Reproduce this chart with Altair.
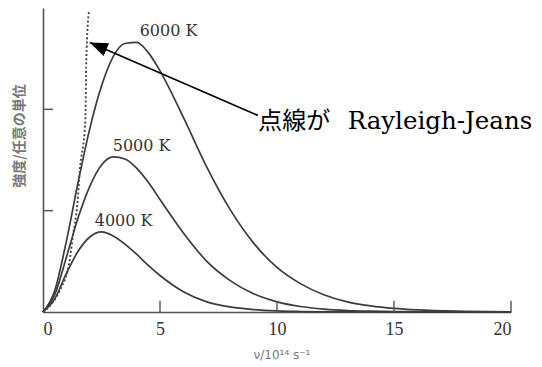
import altair as alt
import pandas as pd

# frequency grid (10^14 s^-1) and intensities
nu = [0, 0.5, 1, 1.5, 2, 2.5, 3, 3.5, 4, 4.5, 5, 6, 7, 8, 9, 10, 11, 12, 13, 14, 15, 16, 18, 20]
i6000 = [0, 0.21, 0.70, 1.28, 1.81, 2.23, 2.52, 2.65, 2.66, 2.56, 2.38, 1.92, 1.43, 1.01, 0.68,
         0.44, 0.28, 0.17, 0.10, 0.06, 0.035, 0.02, 0.007, 0.002]
i5000 = [0, 0.17, 0.54, 0.93, 1.24, 1.45, 1.53, 1.51, 1.42, 1.28, 1.11, 0.78, 0.50, 0.31, 0.18,
         0.10, 0.054, 0.029, 0.015, 0.008, 0.004, 0.002, 0.0005, 0.0001]
i4000 = [0, 0.13, 0.38, 0.60, 0.74, 0.79, 0.75, 0.67, 0.57, 0.46, 0.36, 0.20, 0.10, 0.05, 0.024,
         0.011, 0.005, 0.002, 0.001, 0, 0, 0, 0, 0]

# Rayleigh-Jeans dotted curve
rj_nu = [0, 0.29, 0.71, 1.14, 1.27, 1.47, 1.57, 1.81, 1.85, 1.97]
rj_val = [0, 0.06, 0.21, 0.51, 0.74, 1.07, 1.39, 1.89, 2.48, 2.98]

# curve labels
lab_text = ["6000  K", "5000  K", "4000  K"]
lab_nu = [4.13, 2.98, 2.21]
lab_val = [2.77, 1.64, 0.90]

# axis ticks
x_ticks = [0, 5, 10, 15, 20]
x_inner_ticks = [5, 10, 15, 20]
y_inner_ticks = [1, 2]

# annotation arrow (tip, tail) and text
arrow_tip = (2.0, 2.66)
arrow_tail = (9.18, 1.94)
note_jp = "点線が"
note_en = "Rayleigh-Jeans"
note_jp_pos = (9.2, 1.81)
note_en_pos = (13.02, 1.81)

xs = alt.Scale(domain=[0, 20], nice=False, zero=False)
ys = alt.Scale(domain=[0, 3.0], nice=False, zero=False)

xaxis = alt.Axis(
    values=x_ticks, ticks=False, grid=False, labelPadding=8,
    labelFont="Liberation Serif", labelFontSize=18, labelColor="#333",
    labelAngle=0, domainColor="#555", domainWidth=1.6,
    title="ν/10¹⁴ s⁻¹", titleFont="DejaVu Sans", titleFontSize=12,
    titleFontWeight="normal", titleColor="#777",
    titleX=238.5, titleY=42.5, titleBaseline="middle", titleAlign="center")
yaxis = alt.Axis(
    labels=False, ticks=False, grid=False, domainColor="#555", domainWidth=1.6,
    title="強度/任意の単位", titleFont="Noto Sans CJK JP", titleFontSize=14,
    titleFontWeight="bold", titleColor="#777", titleAngle=270,
    titleX=-24, titleY=127.5, titleBaseline="middle", titleAlign="center")


def X(field="nu"):
    return alt.X(f"{field}:Q", scale=xs, axis=xaxis)


def Y(field="I"):
    return alt.Y(f"{field}:Q", scale=ys, axis=yaxis)


rows = []
for name, vals in [("6000", i6000), ("5000", i5000), ("4000", i4000)]:
    for a, b in zip(nu, vals):
        rows.append({"nu": a, "I": b, "T": name})
curves_df = pd.DataFrame(rows)

curves = alt.Chart(curves_df).mark_line(
    color="#3c3c3c", strokeWidth=1.7, interpolate="monotone"
).encode(x=X(), y=Y(), detail="T:N")

rj = alt.Chart(pd.DataFrame({"nu": rj_nu, "I": rj_val})).mark_line(
    color="#444", strokeWidth=1.9, strokeDash=[2, 2.2], interpolate="monotone"
).encode(x=X(), y=Y())

xt = alt.Chart(pd.DataFrame({"nu": x_inner_ticks, "I": [0] * len(x_inner_ticks),
                             "I2": [0.11] * len(x_inner_ticks)})).mark_rule(
    color="#555", strokeWidth=1.4
).encode(x=X(), y=Y(), y2="I2:Q")

yt = alt.Chart(pd.DataFrame({"I": y_inner_ticks, "nu": [0] * len(y_inner_ticks),
                             "nu2": [0.43] * len(y_inner_ticks)})).mark_rule(
    color="#555", strokeWidth=1.4
).encode(y=Y(), x=X(), x2="nu2:Q")

labels = alt.Chart(pd.DataFrame({"txt": lab_text, "nu": lab_nu, "I": lab_val})).mark_text(
    align="left", baseline="middle", font="DejaVu Serif", fontSize=16, color="#333"
).encode(x=X(), y=Y(), text="txt:N")

arrow_line = alt.Chart(pd.DataFrame({
    "nu": [arrow_tail[0]], "I": [arrow_tail[1]], "nu2": [arrow_tip[0]], "I2": [arrow_tip[1]]
})).mark_rule(color="black", strokeWidth=1.8).encode(
    x=X(), y=Y(), x2="nu2:Q", y2="I2:Q")

arrow_head = alt.Chart(pd.DataFrame({"nu": [arrow_tip[0]], "I": [arrow_tip[1]]})).mark_point(
    shape="M0,0L-0.38,1L0.38,1Z", filled=True, color="black", opacity=1,
    size=1300, angle=293.5, strokeWidth=0
).encode(x=X(), y=Y())

note1 = alt.Chart(pd.DataFrame({"nu": [note_jp_pos[0]], "I": [note_jp_pos[1]], "t": [note_jp]})).mark_text(
    align="left", baseline="alphabetic", font="Noto Sans CJK JP", fontSize=24, color="black"
).encode(x=X(), y=Y(), text="t:N")

note2 = alt.Chart(pd.DataFrame({"nu": [note_en_pos[0]], "I": [note_en_pos[1]], "t": [note_en]})).mark_text(
    align="left", baseline="alphabetic", font="DejaVu Serif", fontSize=24.5, color="black"
).encode(x=X(), y=Y(), text="t:N")

chart = alt.layer(curves, rj, xt, yt, labels, arrow_line, arrow_head, note1, note2).properties(
    width=468, height=304,
    autosize=alt.AutoSizeParams(type="none"),
    padding={"left": 35, "top": 0, "right": 23, "bottom": 50},
    background="white",
).configure_view(stroke=None)

chart.save("out.html", embed_options={"renderer": "svg", "actions": False})
